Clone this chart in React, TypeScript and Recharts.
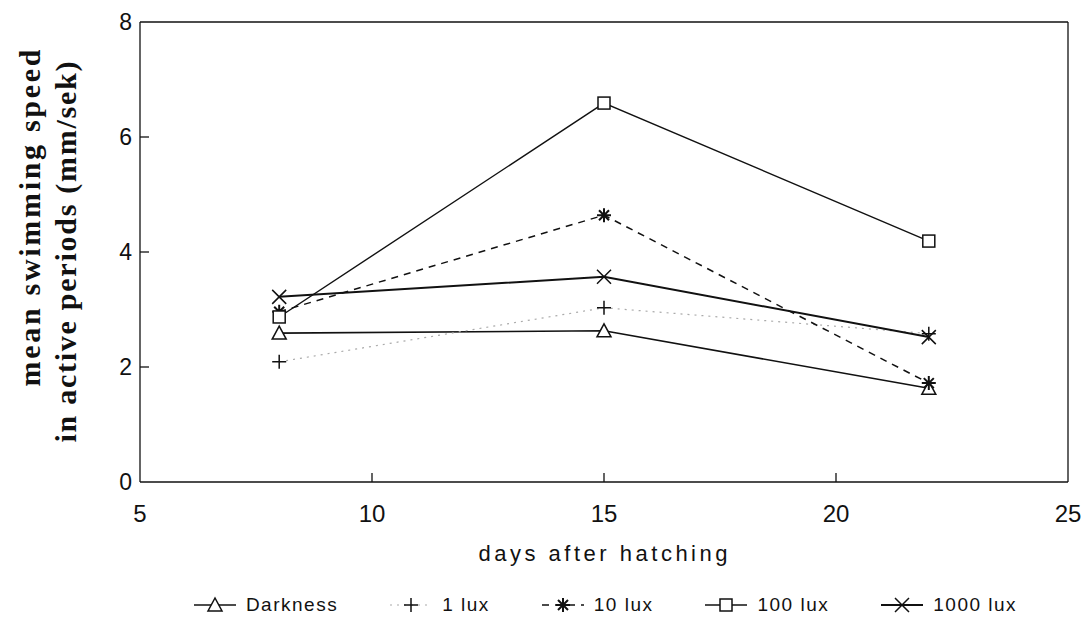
import React from "react";
import {
  LineChart,
  Line,
  XAxis,
  YAxis,
  ReferenceLine,
  Legend,
} from "recharts";

const days = [8, 15, 22];
const darkness = [2.59, 2.63, 1.63];
const lux1 = [2.09, 3.03, 2.58];
const lux10 = [2.96, 4.64, 1.72];
const lux100 = [2.87, 6.59, 4.19];
const lux1000 = [3.22, 3.57, 2.52];

const xTicks = [5, 10, 15, 20, 25];
const yTicks = [0, 2, 4, 6, 8];

const data = days.map((d, i) => ({
  day: d,
  darkness: darkness[i],
  lux1: lux1[i],
  lux10: lux10[i],
  lux100: lux100[i],
  lux1000: lux1000[i],
}));

type Shape = "triangle" | "plus" | "star" | "square" | "cross";

const Marker = ({ cx, cy, shape }: { cx: number; cy: number; shape: Shape }) => {
  const s = 7;
  const common = { stroke: "#111", strokeWidth: 1.5, fill: "#fff" };
  switch (shape) {
    case "triangle":
      return (
        <polygon
          points={`${cx},${cy - s} ${cx - s},${cy + s - 1} ${cx + s},${cy + s - 1}`}
          {...common}
        />
      );
    case "square":
      return <rect x={cx - 6} y={cy - 6} width={12} height={12} {...common} />;
    case "plus":
      return (
        <path d={`M${cx - s},${cy}H${cx + s}M${cx},${cy - s}V${cy + s}`} {...common} />
      );
    case "cross":
      return (
        <path
          d={`M${cx - s},${cy - s}L${cx + s},${cy + s}M${cx - s},${cy + s}L${cx + s},${cy - s}`}
          {...common}
        />
      );
    case "star":
      return (
        <path
          d={`M${cx - s},${cy}H${cx + s}M${cx},${cy - s}V${cy + s}M${cx - 5},${cy - 5}L${cx + 5},${cy + 5}M${cx - 5},${cy + 5}L${cx + 5},${cy - 5}`}
          {...common}
          strokeWidth={2}
        />
      );
  }
  return null;
};

const dotFor = (shape: Shape) => (props: any) => (
  <Marker key={`${shape}-${props.index}`} cx={props.cx} cy={props.cy} shape={shape} />
);

const series: { key: string; name: string; shape: Shape; stroke: string; dash?: string; width: number }[] = [
  { key: "darkness", name: "Darkness", shape: "triangle", stroke: "#111", width: 1.6 },
  { key: "lux1", name: "1 lux", shape: "plus", stroke: "#aaa", dash: "2 5", width: 1.2 },
  { key: "lux10", name: "10 lux", shape: "star", stroke: "#111", dash: "7 6", width: 1.5 },
  { key: "lux100", name: "100 lux", shape: "square", stroke: "#111", width: 1.4 },
  { key: "lux1000", name: "1000 lux", shape: "cross", stroke: "#111", width: 2 },
];

const tickFont = "'Liberation Sans', Arial, sans-serif";

const XTick = (props: any) => {
  const { x, y, payload } = props;
  const inner = payload.value !== 5 && payload.value !== 25;
  return (
    <g>
      {inner && <line x1={x} y1={y} x2={x} y2={y - 9} stroke="#111" strokeWidth={1.3} />}
      <text x={x} y={y + 40} textAnchor="middle" fontSize={24} fontFamily={tickFont} fill="#111">
        {payload.value}
      </text>
    </g>
  );
};

const YTick = (props: any) => {
  const { x, y, payload } = props;
  const inner = payload.value !== 0 && payload.value !== 8;
  return (
    <g>
      {inner && <line x1={x} y1={y} x2={x + 9} y2={y} stroke="#111" strokeWidth={1.3} />}
      <text x={x - 8} y={y + 8} textAnchor="end" fontSize={23} fontFamily={tickFont} fill="#111">
        {payload.value}
      </text>
    </g>
  );
};

const YLabel = () => (
  <g fontFamily="'Liberation Serif', 'Times New Roman', serif" fontWeight="bold" fontSize={30} fill="#111">
    <text
      transform="translate(40,218) rotate(-90)"
      textAnchor="middle"
      textLength={337}
      lengthAdjust="spacing"
    >
      mean swimming speed
    </text>
    <text
      transform="translate(76,252) rotate(-90)"
      textAnchor="middle"
      textLength={381}
      lengthAdjust="spacing"
    >
      in active periods (mm/sek)
    </text>
  </g>
);

const LegendContent = () => (
  <div
    style={{
      display: "flex",
      justifyContent: "center",
      gap: 50,
      fontFamily: tickFont,
      fontSize: 19,
      letterSpacing: 1.5,
      color: "#111",
      paddingLeft: 122,
    }}
  >
    {series.map((s) => (
      <div key={s.key} style={{ display: "flex", alignItems: "center", gap: 8 }}>
        <svg width={46} height={20}>
          <line
            x1={2}
            y1={10}
            x2={44}
            y2={10}
            stroke={s.stroke}
            strokeWidth={s.width}
            strokeDasharray={s.dash}
          />
          <Marker cx={23} cy={10} shape={s.shape} />
        </svg>
        <span>{s.name}</span>
      </div>
    ))}
  </div>
);

export default function App() {
  return (
    <div style={{ position: "absolute", left: 0, top: 0, background: "#fff" }}>
      <LineChart
        width={1087}
        height={633}
        data={data}
        margin={{ top: 22, right: 19, left: 80, bottom: 87 }}
      >
        <XAxis
          dataKey="day"
          type="number"
          domain={[5, 25]}
          ticks={xTicks}
          tick={<XTick />}
          tickLine={false}
          tickSize={0}
          tickMargin={0}
          height={42}
          stroke="#111"
          strokeWidth={1.5}
        />
        <YAxis
          domain={[0, 8]}
          ticks={yTicks}
          tick={<YTick />}
          tickLine={false}
          tickSize={0}
          tickMargin={0}
          width={60}
          stroke="#111"
          strokeWidth={1.3}
        />
        <ReferenceLine y={8} stroke="#111" strokeWidth={1.3} />
        <ReferenceLine x={25} stroke="#111" strokeWidth={1.3} />
        {series.map((s) => (
          <Line
            key={s.key}
            dataKey={s.key}
            name={s.name}
            stroke={s.stroke}
            strokeWidth={s.width}
            strokeDasharray={s.dash}
            dot={dotFor(s.shape)}
            activeDot={false}
            isAnimationActive={false}
          />
        ))}
        <Legend
          content={<LegendContent />}
          wrapperStyle={{ position: "absolute", top: 594, left: 0, width: 1087 }}
        />
      </LineChart>
      <svg
        width={1087}
        height={633}
        style={{ position: "absolute", left: 0, top: 0, pointerEvents: "none" }}
      >
        <YLabel />
        <text
          x={603}
          y={561}
          textAnchor="middle"
          fontFamily={tickFont}
          fontSize={22}
          textLength={249}
          lengthAdjust="spacing"
          fill="#111"
        >
          days after hatching
        </text>
      </svg>
    </div>
  );
}
